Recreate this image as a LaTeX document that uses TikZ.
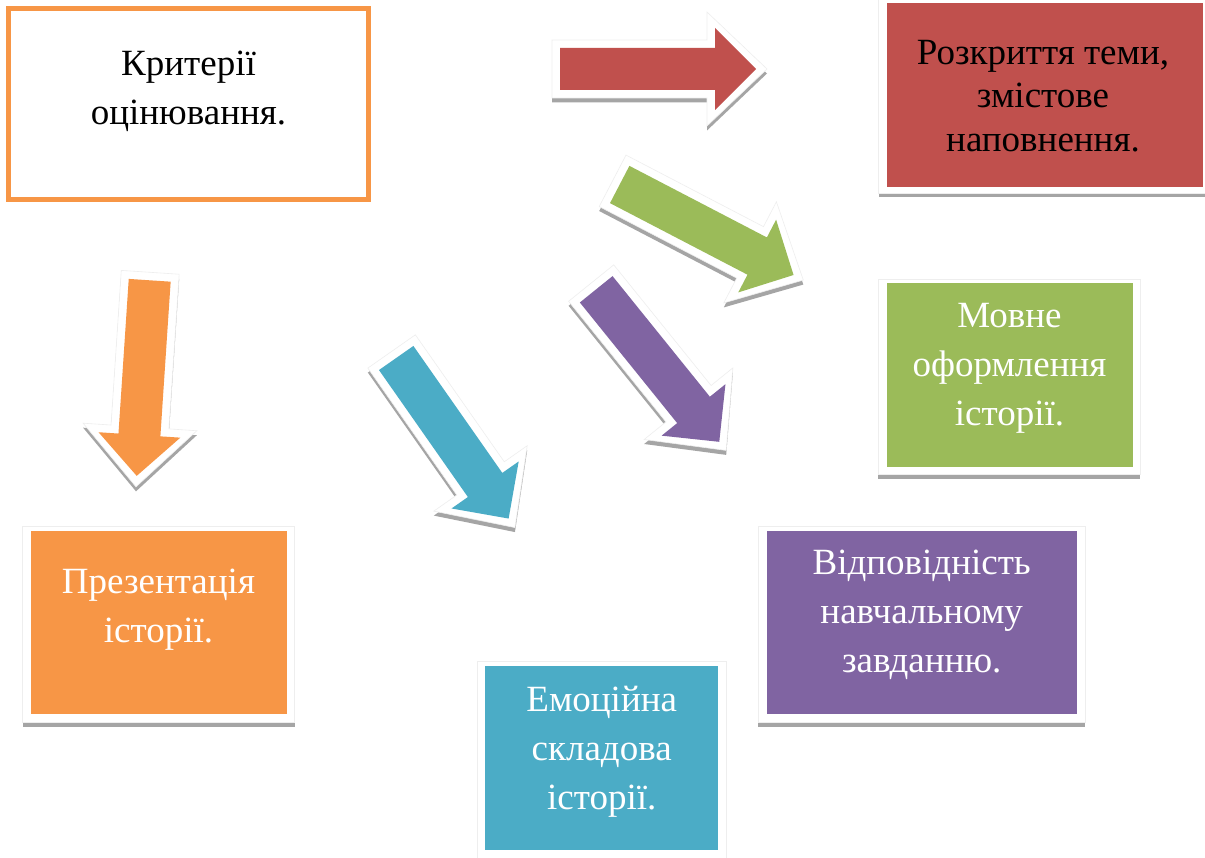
\documentclass[tikz,border=0pt]{standalone}
\usepackage{fontspec}
\setmainfont{Liberation Serif}
\definecolor{cred}{HTML}{C0504D}
\definecolor{cgreen}{HTML}{9BBB59}
\definecolor{cpurple}{HTML}{8064A2}
\definecolor{cblue}{HTML}{4BACC6}
\definecolor{corange}{HTML}{F79646}
\definecolor{shadowgray}{HTML}{A5A5A5}
\definecolor{framegray}{HTML}{EEEEEE}
\tikzset{
  framebox/.style={fill=white, draw=framegray, line width=0.8pt},
  shadowbar/.style={fill=shadowgray},
  arrowframe/.style={fill=white, draw=framegray, line width=0.6pt, line join=miter},
  boxfill/.style={rectangle, inner sep=0pt, draw=none},
  lbl/.style={inner sep=0pt, align=center, font=\fontsize{37}{49}\selectfont},
  lblred/.style={inner sep=0pt, align=center, font=\fontsize{37}{43.5}\selectfont},
}
\newcommand{\blockarrow}[4]{%
  \begin{scope}[shift={(#1,#2+4.5)},rotate=-#3]
    \fill[shadowgray] (-8,-29) -- (147,-29) -- (147,-57) -- (207,0) -- (147,57) -- (147,29) -- (-8,29) -- cycle;
  \end{scope}
  \begin{scope}[shift={(#1,#2)},rotate=-#3]
    \filldraw[arrowframe] (-8,-29) -- (147,-29) -- (147,-57) -- (207,0) -- (147,57) -- (147,29) -- (-8,29) -- cycle;
    \fill[#4] (0,-21) -- (155,-21) -- (155,-41) -- (196,0) -- (155,41) -- (155,21) -- (0,21) -- cycle;
  \end{scope}}
\begin{document}
\begin{tikzpicture}[x=1pt,y=-1pt]
\useasboundingbox (0,0) rectangle (1205,858);
\fill[white] (0,0) rectangle (1205,858);

% main box
\node[boxfill, draw=corange, line width=5pt, fill=white, minimum width=359.7pt, minimum height=191pt] (crit) at (188.35,104.3) {};
\node[lbl] (critt) at (188.5,91) {Критерії\\оцінювання.};

% red box
\fill[shadowbar] (879,193) rectangle (1212,197.5);
\filldraw[framebox] (878,-2) rectangle (1212,193);
\node[boxfill, fill=cred, minimum width=316.3pt, minimum height=183.7pt] (red) at (1044.85,94.85) {};
\node[lblred, text=black] (redt) at (1043,96.1) {Розкриття теми,\\змістове\\наповнення.};

% green box
\fill[shadowbar] (878,474.5) rectangle (1140,479);
\filldraw[framebox] (878,279) rectangle (1140,474.5);
\node[boxfill, fill=cgreen, minimum width=246pt, minimum height=183.4pt] (green) at (1009.7,375) {};
\node[lbl, text=white] (greent) at (1009.5,368) {Мовне\\оформлення\\історії.};

% purple box
\fill[shadowbar] (758,722.5) rectangle (1085,727);
\filldraw[framebox] (758,526) rectangle (1085,722.5);
\node[boxfill, fill=cpurple, minimum width=310pt, minimum height=183.3pt] (purple) at (921.7,622.35) {};
\node[lbl, text=white] (purplet) at (921.7,614.8) {Відповідність\\навчальному\\завданню.};

% blue box
\fill[shadowbar] (477,858.5) rectangle (726.7,863);
\filldraw[framebox] (477,661.5) rectangle (726.7,860);
\node[boxfill, fill=cblue, minimum width=233.3pt, minimum height=184pt] (blue) at (601.65,758) {};
\node[lbl, text=white] (bluet) at (601.7,751.7) {Емоційна\\складова\\історії.};

% orange box
\fill[shadowbar] (22.7,722.5) rectangle (294.5,727);
\filldraw[framebox] (22.7,526) rectangle (294.5,722.5);
\node[boxfill, fill=corange, minimum width=256pt, minimum height=183.3pt] (orange) at (158.7,622.35) {};
\node[lbl, text=white] (oranget) at (158.5,610) {Презентація\\історії.};

% arrows
\blockarrow{560}{69}{0}{cred}
\blockarrow{619.7}{184.5}{27.5}{cgreen}
\blockarrow{596.2}{289.3}{51.1}{cpurple}
\blockarrow{396.2}{358}{55}{cblue}
\blockarrow{149.7}{280.3}{93.8}{corange}
\end{tikzpicture}
\end{document}
